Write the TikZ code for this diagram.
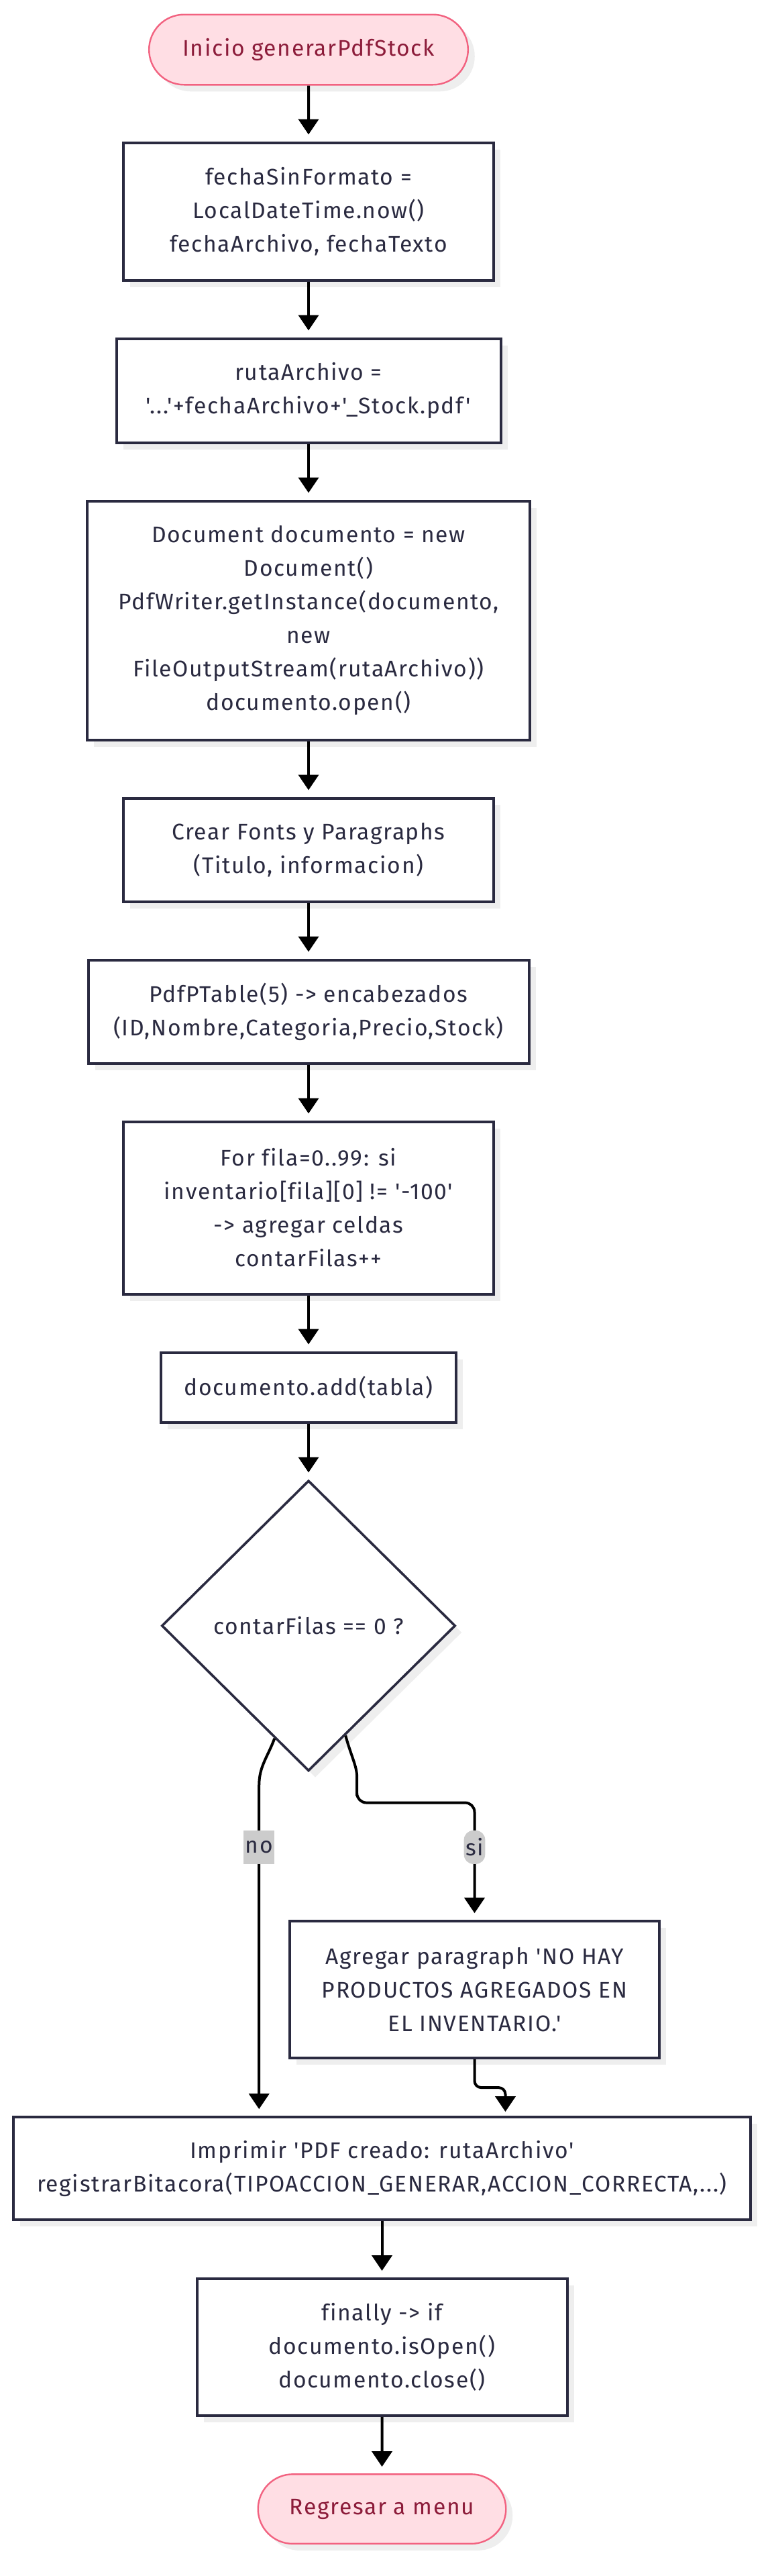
\documentclass[tikz,border=0pt]{standalone}
\usepackage{fontspec}
\newfontfamily\ff{Fira Sans}[Ligatures={TeXOff,CommonOff},LetterSpace=5]
\usetikzlibrary{positioning,shapes.geometric,shapes.misc,shadows,arrows.meta,calc}
\definecolor{ink}{RGB}{42,42,64}
\definecolor{pinkfill}{RGB}{255,222,228}
\definecolor{pinkline}{RGB}{242,98,128}
\definecolor{pinktext}{RGB}{140,28,58}
\definecolor{lblgray}{RGB}{204,204,204}
\definecolor{shadowgray}{RGB}{238,238,238}
\tikzset{
	boxshadow/.style={drop shadow={shadow xshift=5pt,shadow yshift=-5pt,fill=shadowgray,opacity=1}},
	txt/.style={font=\ff\fontsize{16.8pt}{25pt}\selectfont},
	proc/.style={txt, draw=ink, line width=2pt, fill=white, text=ink, align=center, inner sep=0pt, boxshadow},
	term/.style={txt, rounded rectangle, draw=pinkline, line width=1.2pt, fill=pinkfill, text=pinktext, inner sep=0pt, boxshadow},
	decision/.style={txt, diamond, aspect=1, draw=ink, line width=1.8pt, fill=white, text=ink, inner sep=0pt, boxshadow},
	flow/.style={draw=black, line width=2pt, -{Triangle[width=15pt,length=11.5pt]}, shorten >=5pt},
	lbl/.style={txt, fill=lblgray, text=ink, inner xsep=1.2pt, inner ysep=0pt, minimum height=25pt}
}
\begin{document}
\begin{tikzpicture}[node distance=41.5pt]
	\useasboundingbox (0,0) rectangle (573.5pt,-1919.5pt);
	\node[term, minimum width=237.8pt, minimum height=52.3pt] (start) at (230pt,-37pt) {Inicio generarPdfStock};
	\node[proc, minimum width=276pt, minimum height=102.5pt, below=of start] (fecha) {fechaSinFormato =\\LocalDateTime.now()\\fechaArchivo, fechaTexto};
	\node[proc, minimum width=286.5pt, minimum height=77.5pt, below=of fecha] (ruta) {rutaArchivo =\\'...'+fechaArchivo+'\_Stock.pdf'};
	\node[proc, minimum width=330pt, minimum height=178pt, below=of ruta] (doc) {Document documento = new\\Document()\\PdfWriter.getInstance(documento,\\new\\FileOutputStream(rutaArchivo))\\documento.open()};
	\node[proc, minimum width=276pt, minimum height=77pt, below=of doc] (fonts) {Crear Fonts y Paragraphs\\(Titulo, informacion)};
	\node[proc, minimum width=328.5pt, minimum height=77pt, below=of fonts] (tabla) {PdfPTable(5) -> encabezados\\(ID,Nombre,Categoria,Precio,Stock)};
	\node[proc, minimum width=276pt, minimum height=128.5pt, below=of tabla] (filas) {For fila=0..99: si\\inventario[fila][0] != '-100'\\-> agregar celdas\\contarFilas++};
	\node[proc, minimum width=220pt, minimum height=52pt, below=of filas] (add) {documento.add(tabla)};
	\node[decision, minimum width=219pt, minimum height=216.5pt, below=of add] (dec) {contarFilas == 0 ?};
	\node[proc, minimum width=275.5pt, minimum height=102pt, below=110pt of dec, xshift=123.75pt] (aviso) {Agregar paragraph 'NO HAY\\PRODUCTOS AGREGADOS EN\\EL INVENTARIO.'};
	\node[proc, minimum width=549.5pt, minimum height=76.5pt, below=42pt of aviso, xshift=-69pt] (imp) {Imprimir 'PDF creado: rutaArchivo'\\registrarBitacora(TIPOACCION\_GENERAR,ACCION\_CORRECTA,...)};
	\node[proc, minimum width=276pt, minimum height=102pt, below=42pt of imp] (fin) {finally -> if\\documento.isOpen()\\documento.close()};
	\node[term, minimum width=184.8pt, minimum height=51.8pt, below=42pt of fin] (menu) {Regresar a menu};

	\draw[flow] (start) -- (fecha);
	\draw[flow] (fecha) -- (ruta);
	\draw[flow] (ruta) -- (doc);
	\draw[flow] (doc) -- (fonts);
	\draw[flow] (fonts) -- (tabla);
	\draw[flow] (tabla) -- (filas);
	\draw[flow] (filas) -- (add);
	\draw[flow] (add) -- (dec);

	\coordinate (noA) at ($(dec.south)!0.23!(dec.west)$);
	\coordinate (noB) at ([xshift=-11.5pt,yshift=-35pt]noA);
	\draw[flow] (noA) to[out=-110,in=90] (noB) -- node[lbl, pos=0.187] {no} (noB |- imp.north);

	\coordinate (siA) at ($(dec.south)!0.25!(dec.east)$);
	\coordinate (siB) at ([xshift=8.5pt,yshift=-38pt]siA);
	\coordinate (siM) at ([yshift=-50pt]siA);
	\coordinate (siC) at (aviso.north |- siM);
	\draw[flow, rounded corners=7pt] (siA) to[out=-75,in=90] (siB) |- (siC) -- node[lbl, pos=0.38] {si} (aviso.north);

	\coordinate (siD) at ([xshift=23pt]aviso.south);
	\draw[flow, rounded corners=5pt, shorten >=3pt] (aviso.south) -- ++(0,-21pt) -| (siD |- imp.north);

	\draw[flow] (imp) -- (fin);
	\draw[flow] (fin) -- (menu);
\end{tikzpicture}
\end{document}
